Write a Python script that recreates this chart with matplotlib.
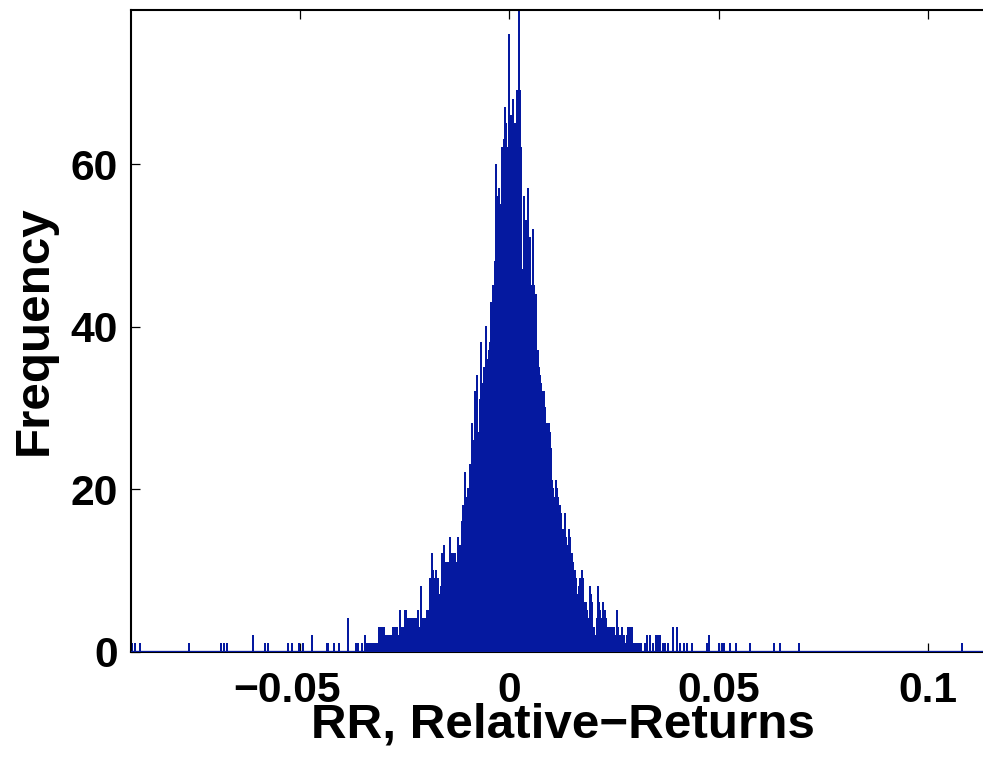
import numpy as np
import matplotlib
matplotlib.use("Agg")
import matplotlib.pyplot as plt
import matplotlib.transforms as mtransforms

# ---------------- data (histogram of relative returns) ----------------
bin_width = 0.0002387
first_edge = -0.09038
n_bins = 846

# dense core: consecutive bin counts starting at core_start
core_start = -0.03800
core_counts = [
    0, 0, 0, 0, 0, 0, 1, 0, 1, 0, 0,
    0, 1, 0, 0, 2, 1, 1, 0, 1, 1, 1, 1, 1, 0, 1, 1, 1, 1, 3, 3,
    3, 2, 3, 3, 1, 2, 2, 1, 2, 2, 1, 2, 3, 3, 2, 3, 3, 2, 1, 5,
    2, 3, 3, 2, 5, 5, 3, 4, 4, 2, 4, 4, 3, 4, 4, 2, 4, 5, 3, 3, 8,
    4, 2, 4, 3, 4, 5, 5, 4, 9, 9, 12, 10, 9, 8, 10, 9, 9, 7, 6, 8,
    12, 11, 13, 10, 11, 10, 11, 9, 14, 12, 11, 12, 12, 12, 10, 11, 14, 12, 13, 11,
    16, 18, 15, 22, 19, 17, 20, 18, 23, 21, 28, 26, 24, 32, 29, 34, 25, 27, 31, 38,
    33, 31, 35, 33, 40, 36, 34, 37, 38, 43,
    27, 45, 44, 48, 60, 56, 52, 57, 55, 50, 62, 58, 63, 67, 65, 62, 10, 76, 63, 66,
    64, 68, 61, 65, 57, 69, 66, 79, 69, 62, 47, 3, 56, 50, 53, 48, 57, 37, 51, 45,
    43, 52, 45, 40, 44, 30, 37, 35, 34,
    33, 32, 31, 32, 30, 16, 28, 27, 28, 27, 25, 21, 20, 19, 18, 21, 20, 19, 17, 18,
    17, 9, 15, 15, 17, 14, 13, 7, 15, 14, 12, 12, 11, 10, 10, 9, 5, 7, 8, 9,
    8, 10, 9, 6, 5, 6, 5, 3, 4, 8, 7, 6, 3, 3, 2, 1, 4, 8, 6, 5,
    4, 4, 6, 5, 5, 4, 3, 3, 3, 3, 2, 3, 3, 3, 2, 1, 5, 3, 2, 2,
    1, 3, 2, 2, 1, 1, 2, 3, 1, 3, 3, 3, 1, 1, 0, 1, 0, 1,
]

# sparse tails: return value -> count
left_tail_rr = [-0.09002, -0.08931, -0.08811, -0.07642, -0.06878, -0.06807,
                -0.06735, -0.06115, -0.05828, -0.05757, -0.05279, -0.05184,
                -0.05017, -0.04921, -0.04706, -0.04348, -0.04325, -0.04181,
                -0.04062, -0.03847]
left_tail_n = [1, 1, 1, 1, 1, 1, 1, 2, 1, 1, 1, 1, 1, 1, 2, 1, 1, 1, 1, 4]

right_tail_rr = [0.03098, 0.03145, 0.03241, 0.03289, 0.03360, 0.03432, 0.03504,
                 0.03551, 0.03599, 0.03671, 0.03718, 0.03790, 0.03909, 0.04005,
                 0.04076, 0.04172, 0.04243, 0.04363, 0.04721, 0.04769, 0.05008,
                 0.05079, 0.05127, 0.05270, 0.05413, 0.05747, 0.06320, 0.06463,
                 0.06916, 0.10807]
right_tail_n = [1, 1, 1, 2, 2, 1, 2, 2, 2, 1, 1, 1, 3, 3, 1, 1, 1, 1, 1, 2,
                1, 1, 1, 1, 1, 1, 1, 1, 1, 1]

x_ticks = [-0.05, 0, 0.05, 0.1]
x_tick_labels = ["\u22120.05", "0", "0.05", "0.1"]
y_ticks = [0, 20, 40, 60]
y_tick_labels = ["0", "20", "40", "60"]
x_label = "RR, Relative\u2212Returns"
y_label = "Frequency"

# ---------------- build histogram ----------------
edges = first_edge + bin_width * np.arange(n_bins + 1)
centers = edges[:-1] + bin_width / 2
counts = np.zeros(n_bins)
core_idx = np.searchsorted(edges, core_start + bin_width / 2) - 1
counts[core_idx:core_idx + len(core_counts)] += np.array(core_counts, float)
for rr, n in zip(left_tail_rr + right_tail_rr, left_tail_n + right_tail_n):
    counts[np.searchsorted(edges, rr) - 1] += n

# ---------------- draw ----------------
plt.rcParams['font.family'] = ['Liberation Sans', 'DejaVu Sans']
plt.rcParams['font.weight'] = 'bold'

BLUE = '#0519A0'
fig = plt.figure(figsize=(9.83, 7.57), dpi=100)
ax = fig.add_axes([0.1330, 0.1391, 0.887, 0.8477])

_, _, patches = ax.hist(centers, bins=edges, weights=counts,
                        histtype='stepfilled', color=BLUE,
                        edgecolor=BLUE, linewidth=0.4, zorder=2)
for p in patches:
    p.set_antialiased(False)
ax.axhline(0, color=BLUE, linewidth=1.6, zorder=3)

ax.set_xlim(-0.09033, 0.11778)
ax.set_ylim(0, 79)
ax.set_xticks(x_ticks)
ax.set_xticklabels(x_tick_labels)
ax.set_yticks(y_ticks)
ax.set_yticklabels(y_tick_labels)

ax.tick_params(axis='both', direction='in', length=6.5, width=0.9,
               labelsize=30.7, top=True, right=False, color='black')
ax.tick_params(axis='x', pad=14)
ax.tick_params(axis='y', pad=9)
for lab in ax.get_xticklabels() + ax.get_yticklabels():
    lab.set_fontweight('bold')

# the negative label sits slightly left of its tick in the reference
neg_shift = mtransforms.ScaledTranslation(-13 / 100, 0, fig.dpi_scale_trans)
xl0 = ax.get_xticklabels()[0]
xl0.set_transform(xl0.get_transform() + neg_shift)

for side in ['left', 'top', 'bottom']:
    ax.spines[side].set_linewidth(1.5)
    ax.spines[side].set_color('black')
ax.spines['right'].set_visible(False)

ax.set_xlabel(x_label, fontsize=35.6, fontweight='bold')
ax.set_ylabel(y_label, fontsize=35.6, fontweight='bold')
ax.xaxis.set_label_coords(0.4958, -0.0784)
ax.yaxis.set_label_coords(-0.0845, 0.5013)

fig.savefig("out.png", dpi=100)
